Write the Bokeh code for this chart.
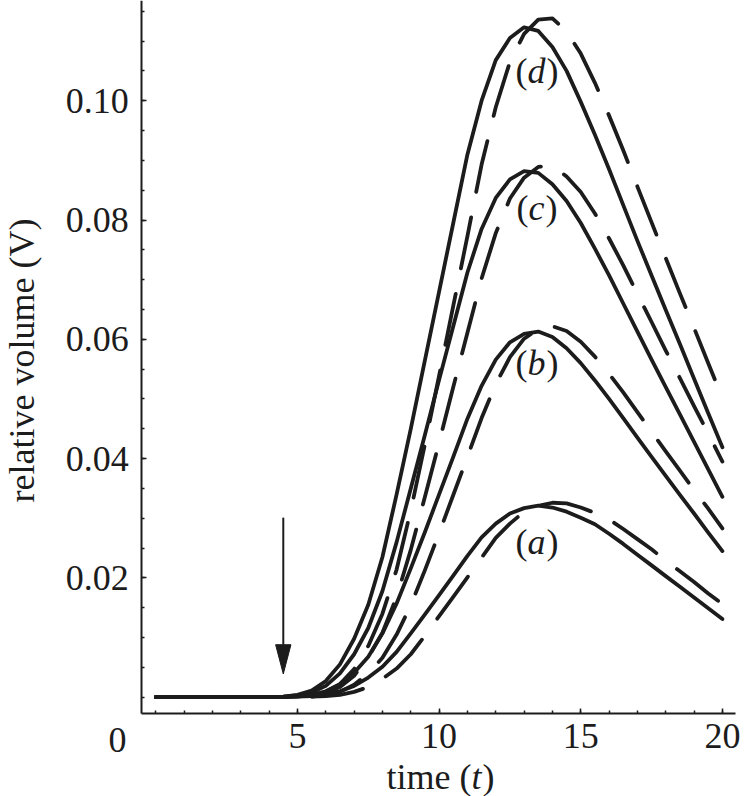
from math import pi
from bokeh.plotting import figure
from bokeh.models import FixedTicker, Label, Range1d, PrintfTickFormatter
from bokeh.embed import file_html
from bokeh.resources import INLINE

# ---------------- data ----------------
t = [0.0, 0.5, 1.0, 1.5, 2.0, 2.5, 3.0, 3.5, 4.0, 4.5, 5.0, 5.5, 6.0, 6.5, 7.0, 7.5,
     8.0, 8.5, 9.0, 9.5, 10.0, 10.5, 11.0, 11.5, 12.0, 12.5, 13.0, 13.5, 14.0, 14.5,
     15.0, 15.5, 16.0, 16.5, 17.0, 17.5, 18.0, 18.5, 19.0, 19.5, 20.0]

Z = [0.0] * 9  # t = 0 .. 4 : flat baseline

solid_a = Z + [0.0, 0.0001, 0.0002, 0.0005, 0.0010, 0.0019, 0.0033, 0.0051, 0.0076, 0.0107,
               0.0139, 0.0171, 0.0204, 0.0237, 0.0268, 0.0291, 0.0308, 0.0317, 0.0321, 0.0318,
               0.0311, 0.0301, 0.0290, 0.0274, 0.0257, 0.0239, 0.0221, 0.0203, 0.0185, 0.0167,
               0.0149, 0.0131]
dashed_a = Z + [0.0, 0.0, 0.0001, 0.0002, 0.0004, 0.0009, 0.0017, 0.0031, 0.0048, 0.0072,
                0.0103, 0.0136, 0.0168, 0.0201, 0.0234, 0.0267, 0.0291, 0.0311, 0.0321, 0.0326,
                0.0325, 0.0318, 0.0309, 0.0298, 0.0282, 0.0265, 0.0248, 0.0229, 0.0211, 0.0193,
                0.0174, 0.0156]
solid_b = Z + [0.0, 0.0001, 0.0004, 0.0010, 0.0022, 0.0041, 0.0068, 0.0107, 0.0157, 0.0216,
               0.0277, 0.0340, 0.0403, 0.0467, 0.0522, 0.0566, 0.0595, 0.0609, 0.0613, 0.0604,
               0.0585, 0.0560, 0.0531, 0.0500, 0.0468, 0.0435, 0.0403, 0.0371, 0.0339, 0.0308,
               0.0276, 0.0245]
dashed_b = Z + [0.0, 0.0, 0.0001, 0.0004, 0.0009, 0.0021, 0.0040, 0.0066, 0.0105, 0.0154,
                0.0213, 0.0275, 0.0339, 0.0403, 0.0468, 0.0525, 0.0570, 0.0601, 0.0617, 0.0622,
                0.0614, 0.0596, 0.0571, 0.0542, 0.0511, 0.0478, 0.0445, 0.0412, 0.0380, 0.0347,
                0.0316, 0.0283]
solid_c = Z + [0.0001, 0.0003, 0.0008, 0.0019, 0.0040, 0.0072, 0.0116, 0.0178, 0.0260, 0.0350,
               0.0440, 0.0532, 0.0622, 0.0712, 0.0785, 0.0837, 0.0868, 0.0882, 0.0879, 0.0860,
               0.0832, 0.0795, 0.0752, 0.0707, 0.0660, 0.0613, 0.0566, 0.0520, 0.0474, 0.0428,
               0.0382, 0.0336]
dashed_c = Z + [0.0, 0.0001, 0.0003, 0.0007, 0.0017, 0.0036, 0.0067, 0.0108, 0.0168, 0.0247,
                0.0336, 0.0427, 0.0520, 0.0611, 0.0702, 0.0778, 0.0836, 0.0871, 0.0889, 0.0891,
                0.0873, 0.0847, 0.0811, 0.0769, 0.0724, 0.0676, 0.0629, 0.0581, 0.0535, 0.0488,
                0.0442, 0.0395]
solid_d = Z + [0.0001, 0.0004, 0.0011, 0.0027, 0.0055, 0.0098, 0.0155, 0.0235, 0.0340, 0.0450,
               0.0565, 0.0680, 0.0795, 0.0910, 0.1000, 0.1068, 0.1105, 0.1123, 0.1117, 0.1090,
               0.1050, 0.0998, 0.0943, 0.0885, 0.0825, 0.0765, 0.0707, 0.0649, 0.0592, 0.0534,
               0.0476, 0.0419]
dashed_d = Z + [0.0, 0.0, 0.0003, 0.0009, 0.0022, 0.0047, 0.0086, 0.0140, 0.0214, 0.0313,
                0.0424, 0.0539, 0.0656, 0.0773, 0.0893, 0.0989, 0.1065, 0.1112, 0.1136, 0.1138,
                0.1116, 0.1079, 0.1030, 0.0975, 0.0917, 0.0856, 0.0796, 0.0736, 0.0677, 0.0619,
                0.0560, 0.0501]

curve_labels = ["a", "b", "c", "d"]
label_t = [13.44, 13.44, 13.44, 13.44]
label_v = [0.02609, 0.05598, 0.08196, 0.10493]   # vertical centre of each label

x_major = [5, 10, 15, 20]
x_minor = [0, 1, 2, 3, 4, 5, 6, 7, 8, 9, 10, 11, 12, 13, 14, 15, 16, 17, 18, 19, 20]
y_major = [0.02, 0.04, 0.06, 0.08, 0.10]
y_minor = [0.0, 0.005, 0.01, 0.015, 0.02, 0.025, 0.03, 0.035, 0.04, 0.045, 0.05, 0.055,
           0.06, 0.065, 0.07, 0.075, 0.08, 0.085, 0.09, 0.095, 0.1, 0.105, 0.11, 0.115]

# axis extents (data units)
x_axis_start, x_axis_end = -0.5, 20.46
y_axis_start, y_axis_end = -0.00273, 0.1168

arrow_t = 4.5
arrow_top = 0.0301
arrow_tip = 0.0039
arrow_head_base = 0.0088
arrow_head_half = 0.27

INK = "#1c1c1c"
FONT = "Liberation Serif"
FS = "36px"

# ---------------- figure ----------------
p = figure(width=744, height=796,
           x_range=Range1d(-5.482, 20.780), y_range=Range1d(-0.016647, 0.11680),
           output_backend="svg", toolbar_location=None,
           min_border_left=0, min_border_right=0, min_border_top=0, min_border_bottom=0)
p.outline_line_color = None
p.xgrid.visible = False
p.ygrid.visible = False
p.background_fill_color = "white"
p.border_fill_color = "white"

xa = p.xaxis[0]
ya = p.yaxis[0]
xa.fixed_location = y_axis_start
ya.fixed_location = x_axis_start
xa.bounds = (x_axis_start, x_axis_end)
ya.bounds = (y_axis_start, y_axis_end)

for ax in (xa, ya):
    ax.axis_line_color = INK
    ax.axis_line_width = 2
    ax.major_tick_line_color = INK
    ax.minor_tick_line_color = INK
    ax.major_tick_line_width = 1.5
    ax.minor_tick_line_width = 1.5
    ax.major_tick_in = 5
    ax.major_tick_out = 0
    ax.minor_tick_in = 3
    ax.minor_tick_out = 0
    ax.major_label_text_font = FONT
    ax.major_label_text_font_size = FS
    ax.major_label_text_color = INK

xa.ticker = FixedTicker(ticks=x_major, minor_ticks=x_minor)
ya.ticker = FixedTicker(ticks=y_major, minor_ticks=y_minor)
ya.formatter = PrintfTickFormatter(format="%.2f")
xa.major_label_standoff = 11
ya.major_label_standoff = 13

# curves
for sol, das in [(solid_a, dashed_a), (solid_b, dashed_b), (solid_c, dashed_c), (solid_d, dashed_d)]:
    p.line(t, sol, line_color=INK, line_width=3.8, line_cap="round", line_join="round")
    p.line(t, das, line_color=INK, line_width=3.8, line_cap="round", line_join="round",
           line_dash="52 26")

# arrow
p.segment(x0=[arrow_t], y0=[arrow_top], x1=[arrow_t], y1=[arrow_head_base],
          line_color=INK, line_width=2)
p.patch(x=[arrow_t - arrow_head_half, arrow_t + arrow_head_half, arrow_t],
        y=[arrow_head_base, arrow_head_base, arrow_tip],
        fill_color=INK, line_color=INK, line_width=1)


def add(text, x, y, xoff=0, align="center", style="normal", angle=0.0):
    p.add_layout(Label(x=x, y=y, text=text, x_offset=xoff, text_align=align,
                       text_baseline="middle", text_font=FONT, text_font_size=FS,
                       text_font_style=style, text_color=INK, angle=angle))


# curve labels (a)..(d)
for name, lx, ly in zip(curve_labels, label_t, label_v):
    half = 9 if name != "c" else 8
    add("(", lx, ly, xoff=-half, align="right")
    add(name, lx, ly, style="italic")
    add(")", lx, ly, xoff=half + 1, align="left")

# origin label "0"
add("0", -1.35, -0.00717)

# x axis title: time (t)
add("time (", 11.32, -0.01343, xoff=-5, align="right")
add("t", 11.32, -0.01343, style="italic")
add(")", 11.32, -0.01343, xoff=6, align="left")

# y axis title
add("relative volume (V)", -4.74, 0.05645, angle=pi / 2)

open("out.html", "w").write(file_html(p, INLINE))
